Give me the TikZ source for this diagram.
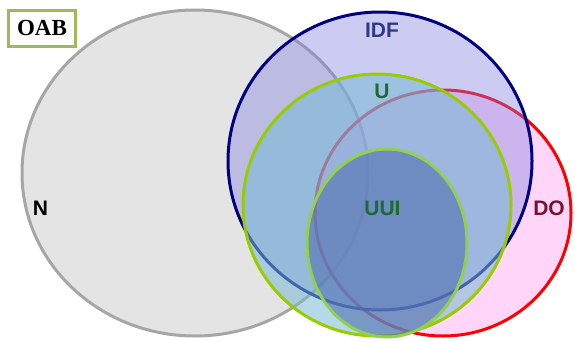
\documentclass[tikz,border=0pt]{standalone}
\usepackage{fontspec}
\setmainfont{Liberation Serif}
\setsansfont{Liberation Sans}
\definecolor{ngray}{HTML}{A6A6A6}
\definecolor{nfill}{HTML}{E4E4E4}
\definecolor{idfline}{HTML}{000080}
\definecolor{idffill}{HTML}{8080E0}
\definecolor{doline}{HTML}{FF0000}
\definecolor{dofill}{HTML}{FF99EE}
\definecolor{uline}{HTML}{99CC00}
\definecolor{ufill}{HTML}{78BAD4}
\definecolor{uuiline}{HTML}{92D050}
\definecolor{uuifill}{HTML}{5070B0}
\definecolor{boxgreen}{HTML}{9BBB59}
\definecolor{labnavy}{HTML}{2E3A87}
\definecolor{labgreen}{HTML}{1E6B32}
\definecolor{labred}{HTML}{7A1030}
\begin{document}
\begin{tikzpicture}[x=1pt,y=-1pt,
  setlabel/.style={font=\sffamily\bfseries\fontsize{21}{22}\selectfont, inner sep=0pt},
  setline/.style={line width=3pt}]
\useasboundingbox (0,0) rectangle (575,340);
% sets, back to front
\filldraw[setline, draw=ngray, fill=nfill] (195,173) ellipse [x radius=173, y radius=163];
\filldraw[setline, draw=doline, fill=dofill, fill opacity=0.4] (443,213) ellipse [x radius=128, y radius=123];
\filldraw[setline, draw=idfline, fill=idffill, fill opacity=0.4] (380,161) ellipse [x radius=152, y radius=149];
\filldraw[setline, draw=uline, fill=ufill, fill opacity=0.55] (377,205) ellipse [x radius=134, y radius=131];
\filldraw[setline, draw=uuiline, fill=uuifill, fill opacity=0.6] (387,243) ellipse [x radius=80, y radius=94];
% labels
\node[setlabel, text=labnavy] (idf) at (382,30.5) {IDF};
\node[setlabel, text=labgreen] (u) at (382,91) {U};
\node[setlabel, text=labgreen] (uui) at (382.5,208.5) {UUI};
\node[setlabel, text=labred] (do) at (549,208) {DO};
\node[setlabel, text=black] (n) at (40.5,208.5) {N};
\node[draw=boxgreen, line width=3pt, fill=white, inner sep=0pt,
      minimum width=67pt, minimum height=36pt,
      font=\rmfamily\bfseries\fontsize{23}{25}\selectfont] (oab) at (42,28) {OAB};
\end{tikzpicture}
\end{document}
